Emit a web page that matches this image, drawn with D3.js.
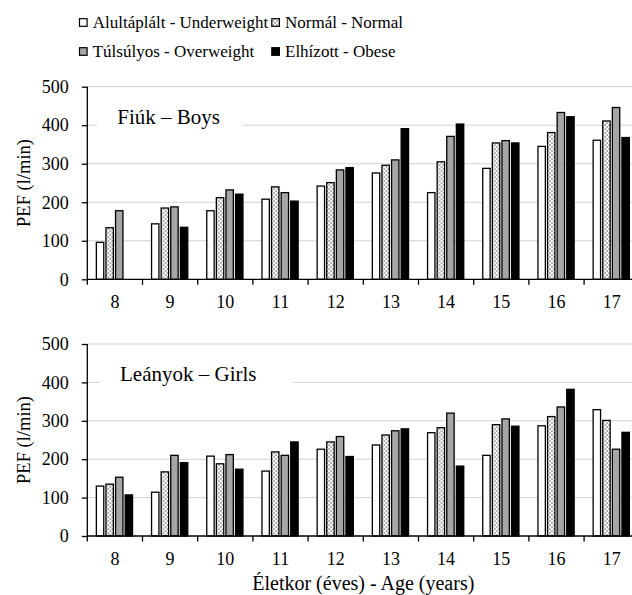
<!DOCTYPE html>
<html>
<head>
<meta charset="utf-8">
<script src="https://cdn.jsdelivr.net/npm/d3@7"></script>
<style>
  html, body { margin: 0; padding: 0; background: #fff; }
</style>
</head>
<body>
<svg id="chart" width="632" height="595"></svg>
<script>
// ---- data ----
const ages = ["8", "9", "10", "11", "12", "13", "14", "15", "16", "17"];
const seriesKeys = ["under", "normal", "over", "obese"];
const seriesLabels = ["Alultáplált - Underweight", "Normál - Normal", "Túlsúlyos - Overweight", "Elhízott - Obese"];
const yTicks = [0, 100, 200, 300, 400, 500];

const boysUnder  = [96, 144, 178, 208, 242, 276, 225, 288, 345, 361];
const boysNormal = [134, 185, 212, 240, 251, 296, 305, 354, 381, 411];
const boysOver   = [178, 188, 232, 225, 284, 310, 371, 360, 433, 446];
const boysObese  = [null, 135, 221, 203, 290, 391, 403, 354, 422, 368];

const girlsUnder  = [130, 114, 208, 169, 226, 237, 269, 210, 287, 329];
const girlsNormal = [135, 167, 188, 219, 245, 263, 282, 290, 311, 301];
const girlsOver   = [153, 210, 212, 210, 259, 274, 320, 305, 336, 226];
const girlsObese  = [107, 191, 174, 245, 207, 279, 182, 286, 382, 270];

const panelTitles = ["Fiúk – Boys", "Leányok – Girls"];
const yTitle = "PEF (l/min)";
const xTitle = "Életkor (éves) - Age (years)";

// ---- layout ----
const FONT = "'Liberation Serif', 'DejaVu Serif', serif";
const svg = d3.select("#chart");
const W = 632, H = 595;
const left = 87.3, catW = 55.2;
const right = left + catW * ages.length;

function txt(sel) { return sel.style("font-family", FONT).attr("fill", "#000"); }

const defs = svg.append("defs");
const pat = defs.append("pattern").attr("id", "dots")
  .attr("patternUnits", "userSpaceOnUse").attr("width", 4).attr("height", 4);
pat.append("rect").attr("width", 4).attr("height", 4).attr("fill", "#fff");
pat.append("rect").attr("x", 0.5).attr("y", 0.5).attr("width", 1.1).attr("height", 1.1).attr("fill", "#000");
pat.append("rect").attr("x", 2.5).attr("y", 2.5).attr("width", 1.1).attr("height", 1.1).attr("fill", "#000");

const fills = { under: "#fff", normal: "url(#dots)", over: "#a6a6a6", obese: "#000" };

const x0 = d3.scaleBand().domain(ages).range([left, right]).padding(0);
const groupPad = 8.4;
const x1 = d3.scaleBand().domain(seriesKeys).range([groupPad, groupPad + 4 * 9.6]).padding(0);

function panel(yBottom, yTop, seriesVals, title, labelBox) {
  const g = svg.append("g");
  const y = d3.scaleLinear().domain([0, 500]).range([yBottom, yTop]);

  g.append("g").selectAll("line").data(yTicks.filter(d => d > 0)).join("line")
    .attr("x1", left).attr("x2", W)
    .attr("y1", d => y(d)).attr("y2", d => y(d))
    .attr("stroke", "#d3d3d3").attr("stroke-width", 1);

  g.append("rect").attr("x", labelBox[0]).attr("y", y(400) - 3)
    .attr("width", labelBox[1] - labelBox[0]).attr("height", 6).attr("fill", "#fff");
  txt(g.append("text").attr("x", labelBox[0] + 20).attr("y", labelBox[2])
    .attr("font-size", 21).text(title));

  const rows = ages.map((a, i) => ({ age: a, vals: seriesKeys.map((k, j) => ({ key: k, v: seriesVals[j][i] })) }));
  const grp = g.append("g").selectAll("g").data(rows).join("g")
    .attr("transform", d => `translate(${x0(d.age)},0)`);
  grp.selectAll("rect").data(d => d.vals.filter(e => e.v != null)).join("rect")
    .attr("x", d => x1(d.key) + 0.65)
    .attr("width", x1.bandwidth() - 2.2)
    .attr("y", d => y(d.v))
    .attr("height", d => y(0) - y(d.v))
    .attr("fill", d => fills[d.key])
    .attr("stroke", "#000").attr("stroke-width", 1.3);

  const yAxis = d3.axisLeft(y).tickValues(yTicks).tickSize(5.5).tickPadding(13);
  const ya = g.append("g").attr("transform", `translate(${left},0)`).call(yAxis);
  ya.select(".domain").attr("stroke", "#000").attr("stroke-width", 1.3).attr("d", `M0,${yBottom}V${yTop}`);
  ya.selectAll(".tick line").attr("stroke", "#000").attr("stroke-width", 1.3);
  txt(ya.selectAll(".tick text").attr("font-size", 18));

  const xa = g.append("g");
  xa.append("line").attr("x1", left).attr("x2", W).attr("y1", yBottom).attr("y2", yBottom)
    .attr("stroke", "#000").attr("stroke-width", 1.3);
  const bounds = ages.map(a => x0(a)).concat([right]);
  xa.selectAll("line.tk").data(bounds).join("line").attr("class", "tk")
    .attr("x1", d => d).attr("x2", d => d).attr("y1", yBottom).attr("y2", yBottom + 5.5)
    .attr("stroke", "#000").attr("stroke-width", 1.3);
  txt(xa.selectAll("text").data(ages).join("text")
    .attr("x", d => x0(d) + x0.bandwidth() / 2).attr("y", yBottom + 28.5)
    .attr("text-anchor", "middle").attr("font-size", 18).text(d => d));

  txt(svg.append("text")
    .attr("transform", `translate(30,${(yBottom + yTop) / 2}) rotate(-90)`)
    .attr("text-anchor", "middle").attr("font-size", 18.5).text(yTitle));
}

panel(279.3, 86.7, [boysUnder, boysNormal, boysOver, boysObese], panelTitles[0], [97.3, 242.7, 124]);
panel(536, 344, [girlsUnder, girlsNormal, girlsOver, girlsObese], panelTitles[1], [100, 292.7, 381]);

txt(svg.append("text").attr("x", (left + right) / 2).attr("y", 590)
  .attr("text-anchor", "middle").attr("font-size", 20).text(xTitle));

const legendPos = [[92.7, 28], [285, 28], [92.7, 57], [285, 57]];
const lg = svg.append("g").selectAll("g").data(seriesKeys).join("g");
lg.append("rect")
  .attr("x", (d, i) => legendPos[i][0] - 13.2)
  .attr("y", (d, i) => legendPos[i][1] - 9.3)
  .attr("width", 7.6).attr("height", 7.6)
  .attr("fill", d => fills[d]).attr("stroke", "#000").attr("stroke-width", 1.2);
txt(lg.append("text")
  .attr("x", (d, i) => legendPos[i][0]).attr("y", (d, i) => legendPos[i][1])
  .attr("font-size", 17).text((d, i) => seriesLabels[i]));
</script>
</body>
</html>
